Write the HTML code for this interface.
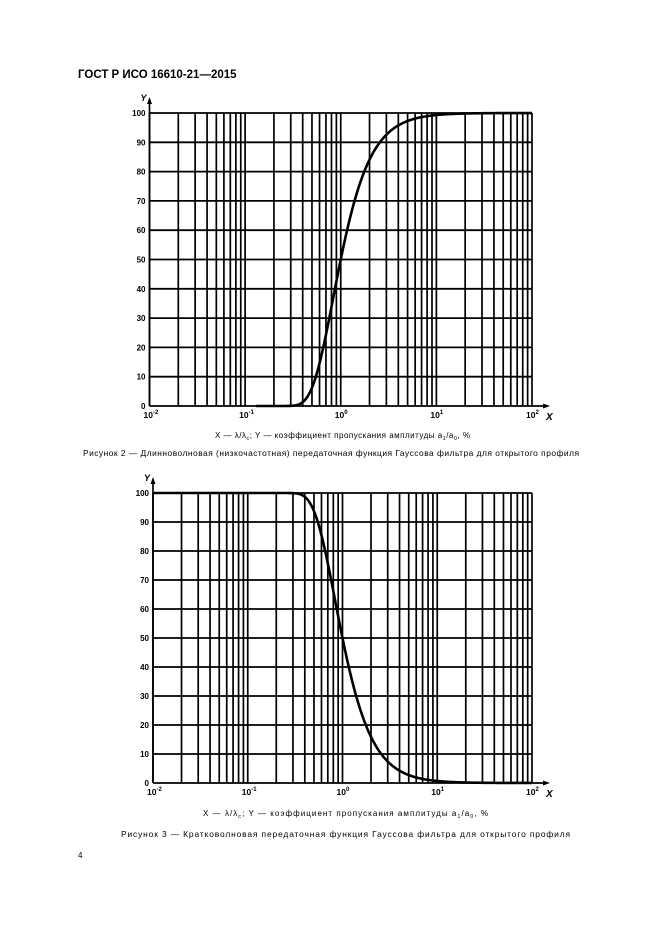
<!DOCTYPE html>
<html><head><meta charset="utf-8"><style>
body{margin:0;background:#fff;width:661px;height:936px;overflow:hidden;font-family:"Liberation Sans",sans-serif;}
svg{position:absolute;left:0;top:0}
</style></head><body>
<svg id="s" width="661" height="936" xmlns="http://www.w3.org/2000/svg" font-family="Liberation Sans, sans-serif">
<text x="78" y="78" font-size="11.5" font-weight="bold">ГОСТ Р ИСО 16610-21—2015</text>
<text x="215" y="438" font-size="8" textLength="255" lengthAdjust="spacing">X — λ/λ<tspan font-size="5.5" dy="2">c</tspan><tspan dy="-2">; Y — коэффициент пропускания амплитуды a</tspan><tspan font-size="5.5" dy="2">1</tspan><tspan dy="-2">/a</tspan><tspan font-size="5.5" dy="2">0</tspan><tspan dy="-2">, %</tspan></text>
<text x="83" y="456" font-size="8.4" textLength="496" lengthAdjust="spacing">Рисунок 2 — Длинноволновая (низкочастотная) передаточная функция Гауссова фильтра для открытого профиля</text>
<text x="203" y="816" font-size="8" textLength="285" lengthAdjust="spacing">X — λ/λ<tspan font-size="5.5" dy="2">c</tspan><tspan dy="-2">; Y — коэффициент пропускания амплитуды a</tspan><tspan font-size="5.5" dy="2">1</tspan><tspan dy="-2">/a</tspan><tspan font-size="5.5" dy="2">0</tspan><tspan dy="-2">, %</tspan></text>
<text x="121" y="837" font-size="8.4" textLength="449" lengthAdjust="spacing">Рисунок 3 — Кратковолновая передаточная функция Гауссова фильтра для открытого профиля</text>
<text x="78" y="858" font-size="8">4</text>
<g id="g"></g>
</svg>
<script>
var g=document.getElementById('g'),h='';
function chart(L,R,T,B,inv){
 var dw=(R-L)/4;
 function X(v){return L+(Math.log10(v)+2)*dw;}
 function Y(p){return B-(B-T)*p/100;}
 for(var d=-2;d<2;d++)for(var k=1;k<=10;k++){var x=X(k*Math.pow(10,d));if(k==1&&d>-2)continue;
  h+='<line x1="'+x+'" y1="'+T+'" x2="'+x+'" y2="'+B+'" stroke="#000" stroke-width="1.7"/>';}
 for(var p=0;p<=100;p+=10){h+='<line x1="'+L+'" y1="'+Y(p)+'" x2="'+(p==0?R+14:R)+'" y2="'+Y(p)+'" stroke="#000" stroke-width="1.8"/>';
  h+='<text x="'+(L-4)+'" y="'+(Y(p)+3)+'" font-size="8" font-weight="bold" text-anchor="end">'+p+'</text>';}
 h+='<line x1="'+L+'" y1="'+B+'" x2="'+L+'" y2="'+(T-13)+'" stroke="#000" stroke-width="1.7"/>';
 h+='<path d="M'+(L-2.5)+' '+(T-9)+'L'+L+' '+(T-16)+'L'+(L+2.5)+' '+(T-9)+'Z"/>';
 h+='<path d="M'+(R+11)+' '+(B-2.5)+'L'+(R+18)+' '+B+'L'+(R+11)+' '+(B+2.5)+'Z"/>';
 h+='<text x="'+(L-9)+'" y="'+(T-12)+'" font-size="9" font-weight="bold" font-style="italic">Y</text>';
 h+='<text x="'+(R+14)+'" y="'+(B+14)+'" font-size="10" font-weight="bold" font-style="italic">X</text>';
 var labs=['-2','-1','0','1','2'];
 for(var i=0;i<5;i++){var x=L+i*dw;h+='<text x="'+(x-6)+'" y="'+(B+12)+'" font-size="8.5" font-weight="bold">10<tspan font-size="6" dy="-4">'+labs[i]+'</tspan></text>';}
 var pts=[],x0=inv?0.01:0.13,x1=100;
 for(var i=0;i<=400;i++){var v=Math.pow(10,Math.log10(x0)+(Math.log10(x1)-Math.log10(x0))*i/400);
  var y=100*Math.exp(-Math.LN2/(v*v));if(inv)y=100-y;pts.push(X(v).toFixed(2)+','+Y(y).toFixed(2));}
 h+='<polyline points="'+pts.join(' ')+'" fill="none" stroke="#000" stroke-width="2.6"/>';
}
chart(149.5,532,113,406,false);
chart(153,532,493,783,true);
g.innerHTML=h;
</script>
</body></html>
